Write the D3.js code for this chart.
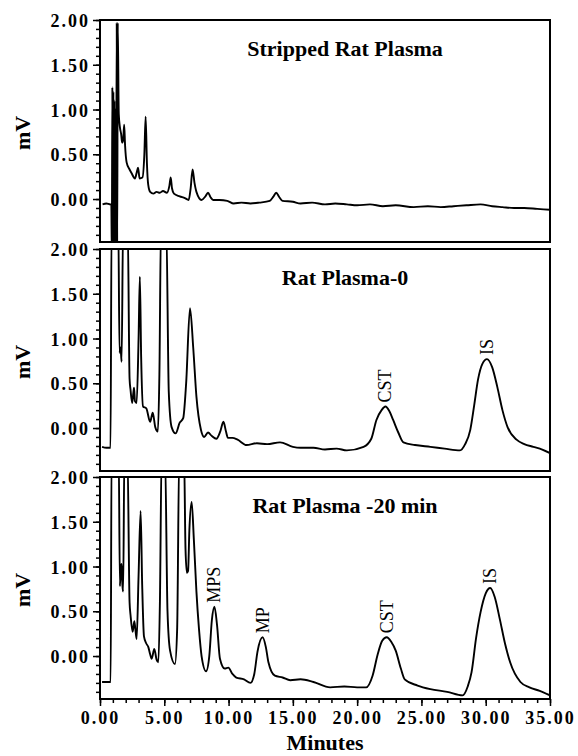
<!DOCTYPE html>
<html>
<head>
<meta charset="utf-8">
<script src="https://cdn.jsdelivr.net/npm/d3@7"></script>
<style>
	body { margin: 0; background: #fff; }
	svg text { font-family: "Liberation Serif", "Times New Roman", serif; fill: #000; }
	.tickLab text { font-weight: bold; font-size: 18px; letter-spacing: 2px; }
	.axisLabel { font-weight: bold; font-size: 22px; }
	.panelTitle { font-weight: bold; font-size: 22px; }
	.peakLabel { font-size: 18px; }
</style>
</head>
<body>
<svg class="chart"></svg>
<script>
// chart values: [minutes, mV]
var strippedTrace = [[0.2,-0.06],[0.5,-0.05],[0.8,-0.06],[0.88,-0.06],[0.92,-0.6],[0.96,1.25],[1.0,-0.6],[1.04,1.2],[1.08,-0.6],[1.12,1.1],[1.16,-0.6],[1.2,1.0],[1.25,-0.6],[1.3,1.97],[1.34,-0.6],[1.38,1.97],[1.46,0.95],[1.55,0.8],[1.65,0.72],[1.72,0.63],[1.8,0.66],[1.88,0.83],[1.95,0.6],[2.07,0.41],[2.3,0.33],[2.45,0.29],[2.72,0.23],[2.86,0.3],[2.96,0.35],[3.08,0.23],[3.3,0.24],[3.45,0.5],[3.55,0.92],[3.65,0.4],[3.75,0.16],[3.9,0.08],[4.15,0.06],[4.4,0.08],[4.65,0.07],[4.9,0.09],[5.2,0.07],[5.4,0.15],[5.5,0.24],[5.6,0.12],[5.75,0.06],[6.2,0.03],[6.6,0.01],[6.9,-0.01],[7.05,0.12],[7.2,0.33],[7.35,0.18],[7.5,0.08],[7.9,-0.01],[8.2,0.03],[8.4,0.07],[8.6,0.02],[8.8,-0.01],[9.3,-0.01],[9.9,-0.02],[10.4,-0.05],[11,-0.04],[11.7,-0.05],[12.4,-0.04],[13.2,-0.02],[13.5,0.03],[13.7,0.07],[13.95,0.02],[14.2,-0.02],[15,-0.03],[15.6,-0.05],[16.5,-0.04],[17.5,-0.06],[18.3,-0.05],[19.2,-0.06],[20,-0.07],[21,-0.06],[22,-0.08],[23,-0.07],[24.4,-0.09],[25.5,-0.08],[26.5,-0.09],[27.5,-0.08],[28.5,-0.07],[29.6,-0.06],[30.5,-0.08],[31.3,-0.09],[32.2,-0.1],[33,-0.1],[34,-0.11],[35,-0.12]];

var plasma0Trace = [[0.16,-0.21],[0.5,-0.22],[0.82,-0.22],[0.9,2.3],[1.42,2.3],[1.52,0.84],[1.6,0.9],[1.68,0.74],[1.8,2.3],[2.15,2.3],[2.3,0.55],[2.38,0.42],[2.5,0.28],[2.6,0.4],[2.65,0.45],[2.72,0.3],[2.85,0.28],[3.0,1.0],[3.1,1.69],[3.2,0.8],[3.35,0.24],[3.6,0.22],[3.9,0.07],[4.1,0.17],[4.3,0.01],[4.5,-0.04],[4.62,0.6],[4.75,2.3],[5.15,2.3],[5.35,0.4],[5.57,0.01],[5.88,-0.06],[6.2,0.06],[6.47,0.11],[6.7,0.5],[7.0,1.34],[7.25,0.9],[7.5,0.35],[7.85,-0.02],[8.1,-0.1],[8.4,-0.05],[8.7,-0.09],[9.05,-0.12],[9.35,-0.04],[9.6,0.07],[9.8,-0.04],[9.95,-0.11],[10.3,-0.11],[10.7,-0.13],[11.4,-0.19],[12.2,-0.17],[13,-0.18],[14,-0.16],[15,-0.21],[15.6,-0.22],[16.6,-0.22],[17.5,-0.24],[18.4,-0.23],[19.2,-0.25],[20.5,-0.21],[21.1,-0.12],[21.5,0.09],[21.9,0.2],[22.2,0.24],[22.5,0.19],[22.8,0.09],[23.2,-0.05],[23.6,-0.16],[24.5,-0.19],[25.7,-0.21],[26.8,-0.23],[28,-0.25],[28.4,-0.18],[28.8,-0.02],[29.1,0.25],[29.4,0.54],[29.75,0.72],[30.1,0.77],[30.5,0.68],[30.9,0.46],[31.3,0.2],[31.7,0.01],[32.4,-0.13],[33.0,-0.18],[33.7,-0.21],[34.4,-0.24],[35,-0.28]];

var plasma20Trace = [[0.16,-0.29],[0.5,-0.29],[0.83,-0.29],[0.9,2.3],[1.45,2.3],[1.55,0.78],[1.62,1.0],[1.68,1.03],[1.74,0.8],[1.8,0.72],[1.9,2.3],[2.13,2.3],[2.3,0.6],[2.38,0.45],[2.54,0.27],[2.67,0.39],[2.75,0.3],[2.85,0.19],[3.0,0.9],[3.16,1.62],[3.28,0.8],[3.42,0.22],[3.6,0.14],[3.76,0.1],[3.9,0.02],[4.02,-0.03],[4.22,0.08],[4.4,-0.04],[4.54,-0.07],[4.66,0.6],[4.8,2.3],[5.05,2.3],[5.25,0.5],[5.45,0.06],[5.83,-0.09],[6.0,0.3],[6.17,2.3],[6.53,2.3],[6.65,1.2],[6.76,0.93],[6.85,0.95],[6.95,1.4],[7.13,1.72],[7.3,1.3],[7.5,0.72],[7.7,0.3],[7.9,0.0],[8.25,-0.17],[8.5,0.0],[8.7,0.4],[8.9,0.55],[9.1,0.35],[9.33,-0.03],[9.7,-0.14],[9.98,-0.13],[10.3,-0.2],[10.6,-0.24],[11.2,-0.26],[11.7,-0.3],[12.0,-0.2],[12.25,0.05],[12.65,0.21],[12.9,0.1],[13.1,-0.07],[13.6,-0.22],[14.2,-0.24],[14.8,-0.27],[15.6,-0.26],[16.6,-0.29],[17.9,-0.35],[19.0,-0.34],[20.0,-0.35],[20.7,-0.35],[21.2,-0.22],[21.6,0.02],[21.95,0.17],[22.3,0.21],[22.65,0.16],[23.0,0.06],[23.4,-0.14],[23.7,-0.26],[24.7,-0.33],[25.7,-0.37],[27.0,-0.4],[28.2,-0.44],[28.6,-0.34],[28.9,-0.18],[29.25,0.2],[29.6,0.49],[30.0,0.7],[30.35,0.76],[30.7,0.66],[31.1,0.41],[31.5,0.14],[31.9,-0.07],[32.7,-0.29],[33.4,-0.35],[34.2,-0.39],[35,-0.44]];

var panelTitles = ["Stripped Rat Plasma", "Rat Plasma-0", "Rat Plasma -20 min"];

// peak labels: panel index, minutes, peak height (mV), text
var peakLabels = [
	{ panel: 1, t: 22.2, v: 0.24, text: "CST" },
	{ panel: 1, t: 30.1, v: 0.77, text: "IS" },
	{ panel: 2, t: 8.9, v: 0.55, text: "MPS" },
	{ panel: 2, t: 12.65, v: 0.21, text: "MP" },
	{ panel: 2, t: 22.3, v: 0.21, text: "CST" },
	{ panel: 2, t: 30.35, v: 0.76, text: "IS" }
];

var yMajor = [0, 0.5, 1, 1.5, 2];
var yMinor = d3.range(-4, 21).map(function(d) { return d / 10; });
var xMajor = [0, 5, 10, 15, 20, 25, 30, 35];
var xMinor = d3.range(0, 36);

var chartWidth = 578;
var chartHeight = 756;
var svg = d3.select(".chart").attr("width", chartWidth).attr("height", chartHeight);

var left = 100, right = 550;
var panelTops = [20, 249, 477];
var panelH = 222;

var x = d3.scaleLinear().domain([0, 35]).range([left, right]);
var traces = [strippedTrace, plasma0Trace, plasma20Trace];

panelTops.forEach(function(top, i) {
	var y = d3.scaleLinear().domain([-0.48, 2.0]).range([top + panelH, top]);
	var g = svg.append("g");

	g.append("clipPath").attr("id", "clip" + i)
		.append("rect").attr("x", left).attr("y", top).attr("width", right - left).attr("height", panelH);

	var line = d3.line()
		.x(function(d) { return x(d[0]); })
		.y(function(d) { return y(d[1]); })
		.curve(d3.curveMonotoneX);

	g.append("path")
		.datum(traces[i])
		.attr("clip-path", "url(#clip" + i + ")")
		.attr("fill", "none")
		.attr("stroke", "#000")
		.attr("stroke-width", 1.9)
		.attr("stroke-linejoin", "round")
		.attr("d", line);

	// frame
	g.append("rect")
		.attr("x", left).attr("y", top)
		.attr("width", right - left).attr("height", panelH)
		.attr("fill", "none").attr("stroke", "#000").attr("stroke-width", 2);

	// y axis minor and major ticks
	var minor = g.append("g").attr("transform", "translate(" + left + ",0)")
		.call(d3.axisLeft(y).tickValues(yMinor).tickSize(4).tickFormat(""));
	minor.select(".domain").remove();
	var major = g.append("g").attr("class", "tickLab").attr("transform", "translate(" + left + ",0)")
		.call(d3.axisLeft(y).tickValues(yMajor).tickSize(7).tickPadding(3).tickFormat(d3.format(".2f")));
	major.select(".domain").remove();
	g.selectAll(".tick line").attr("stroke", "#000").attr("stroke-width", 1.5);
	major.selectAll("text").attr("font-family", null).attr("font-size", null).attr("dy", "0.36em");

	// y label
	g.append("text")
		.attr("class", "axisLabel")
		.attr("transform", "translate(30," + (top + panelH / 2 + 2) + ") rotate(-90)")
		.attr("text-anchor", "middle")
		.text("mV");

	// title
	g.append("text")
		.attr("class", "panelTitle")
		.attr("x", 345).attr("y", top + 36)
		.attr("text-anchor", "middle")
		.text(panelTitles[i]);

	peakLabels.filter(function(p) { return p.panel === i; }).forEach(function(p) {
		g.append("text")
			.attr("class", "peakLabel")
			.attr("transform", "translate(" + (x(p.t) + 6) + "," + (y(p.v) - 4) + ") rotate(-90)")
			.text(p.text);
	});

	if (i === 2) {
		var bottom = top + panelH;
		var xm = g.append("g").attr("transform", "translate(0," + bottom + ")")
			.call(d3.axisBottom(x).tickValues(xMinor).tickSize(4).tickFormat(""));
		xm.select(".domain").remove();
		var xM = g.append("g").attr("class", "tickLab").attr("transform", "translate(0," + bottom + ")")
			.call(d3.axisBottom(x).tickValues(xMajor).tickSize(7).tickPadding(4).tickFormat(d3.format(".2f")));
		xM.select(".domain").remove();
		xM.selectAll("text").attr("font-family", null).attr("font-size", null).attr("dy", "0.75em");
		g.selectAll(".tick line").attr("stroke", "#000").attr("stroke-width", 1.5);

		g.append("text")
			.attr("class", "axisLabel")
			.attr("x", (left + right) / 2).attr("y", 750)
			.attr("text-anchor", "middle")
			.text("Minutes");
	}
});
</script>
</body>
</html>
